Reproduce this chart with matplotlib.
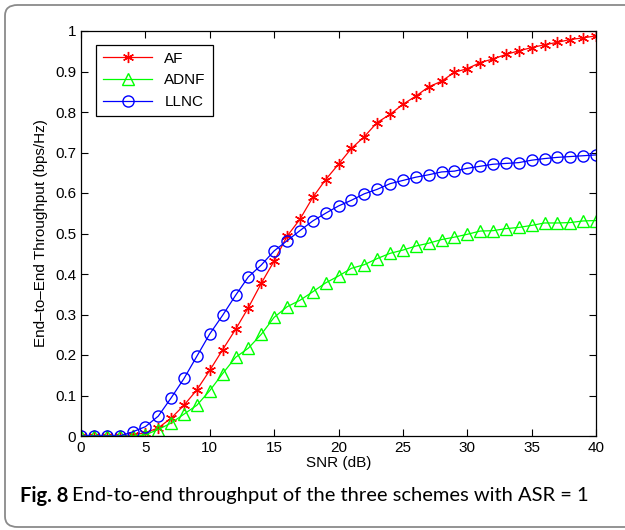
import numpy as np
from matplotlib import pyplot as plt
from matplotlib.patches import FancyBboxPatch

snr = list(range(0, 41))

af = [0, 0, 0, 0, 0.003, 0.008, 0.02, 0.044, 0.076, 0.114,
      0.162, 0.213, 0.263, 0.317, 0.377, 0.432, 0.493, 0.535, 0.589, 0.633,
      0.671, 0.710, 0.739, 0.774, 0.794, 0.819, 0.839, 0.862, 0.876, 0.898,
      0.907, 0.922, 0.931, 0.942, 0.951, 0.959, 0.966, 0.972, 0.979, 0.983,
      0.988]

adnf = [0, 0, 0, 0, 0, 0.003, 0.016, 0.032, 0.054, 0.076,
        0.112, 0.154, 0.194, 0.217, 0.251, 0.293, 0.319, 0.335, 0.356, 0.378,
        0.395, 0.414, 0.423, 0.438, 0.451, 0.459, 0.469, 0.476, 0.485, 0.491,
        0.498, 0.506, 0.507, 0.512, 0.515, 0.520, 0.526, 0.526, 0.527, 0.531,
        0.532]

llnc = [0, 0, 0, 0, 0.01, 0.023, 0.049, 0.094, 0.142, 0.197,
        0.252, 0.298, 0.347, 0.393, 0.422, 0.457, 0.482, 0.507, 0.531, 0.550,
        0.568, 0.582, 0.598, 0.609, 0.623, 0.631, 0.639, 0.645, 0.652, 0.654,
        0.661, 0.666, 0.671, 0.673, 0.675, 0.681, 0.685, 0.688, 0.690, 0.692,
        0.694]

W, H = 625, 530
fig = plt.figure(figsize=(W / 100, H / 100), dpi=100)
plt.rcParams['font.family'] = ['Liberation Sans', 'DejaVu Sans']

# rounded frame around the whole figure (right side runs off the image)
frame = FancyBboxPatch((5 / W, 3 / H), 650 / W, 522 / H,
                       boxstyle="round,pad=0,rounding_size=0.02",
                       transform=fig.transFigure, fill=False,
                       edgecolor='#8a8a8a', linewidth=1.3)
fig.patches.append(frame)

ax = fig.add_axes([81 / W, 1 - 436 / H, 515 / W, 405 / H])

asterisk = (6, 2, 0)
ax.plot(snr, af, color='red', marker=asterisk, markersize=8, markeredgewidth=1.0,
        linewidth=0.9, label='AF')
ax.plot(snr, adnf, color='#00ff00', marker='^', markersize=8, markerfacecolor='none',
        linewidth=0.9, label='ADNF')
ax.plot(snr, llnc, color='blue', marker='o', markersize=8, markerfacecolor='none',
        linewidth=0.9, label='LLNC')

ax.set_xlim(0, 40)
ax.set_ylim(0, 1)
ax.set_xticks(range(0, 41, 5))
ax.set_yticks(np.arange(0, 1.01, 0.1))
ax.set_yticklabels(['0', '0.1', '0.2', '0.3', '0.4', '0.5', '0.6', '0.7', '0.8', '0.9', '1'])
ax.tick_params(direction='in', top=True, right=True, labelsize=11, length=5, width=0.8)
for s in ax.spines.values():
    s.set_linewidth(0.9)

ax.set_xlabel('SNR (dB)', fontsize=11, labelpad=1)
ax.set_ylabel('End–to–End Throughput (bps/Hz)', fontsize=11, labelpad=5)

leg = ax.legend(loc='upper left', bbox_to_anchor=(0.015, 0.985), fontsize=11,
                fancybox=False, edgecolor='black', framealpha=1,
                handlelength=3.2, borderpad=0.45, labelspacing=0.5)
leg.get_frame().set_linewidth(0.9)

fig.text(20 / W, 1 - 496 / H, 'Fig. 8', fontsize=14.5, fontweight='bold',
         family='Lato', va='center')
fig.text(72 / W, 1 - 496 / H, 'End-to-end throughput of the three schemes with ASR = 1',
         fontsize=14.5, family='Lato', va='center')

fig.savefig('out.png', dpi=100)
